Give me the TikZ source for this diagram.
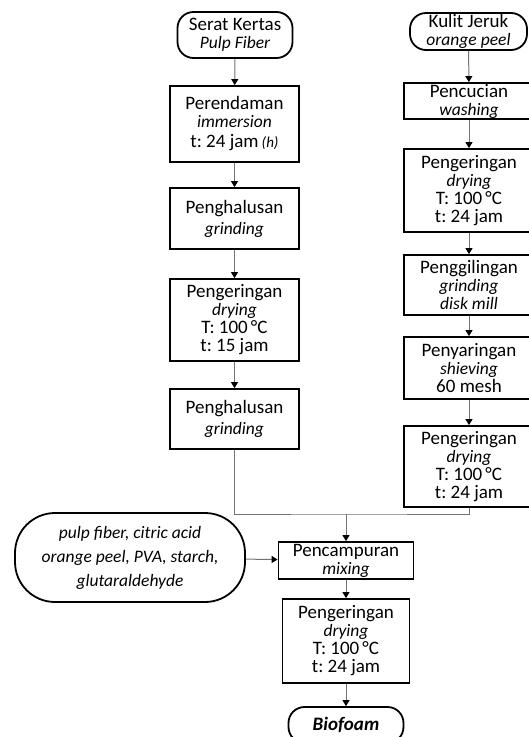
\documentclass[tikz,border=0pt]{standalone}
\usepackage{fontspec}
\setmainfont{Carlito}
\usetikzlibrary{arrows.meta,positioning}

\tikzset{
  proc/.style={draw,line width=1.8pt,align=center,inner sep=1pt,font=\fontsize{19}{18}\selectfont\frenchspacing},
  term/.style={proc,rounded corners=16pt},
  flow/.style={draw=black!55,line width=1pt},
  arr/.style={flow,-{Triangle[width=7pt,length=6pt,color=black]}},
}
\newcommand{\engl}[1]{{\fontsize{17.5}{18}\selectfont\itshape #1}}

\begin{document}
\begin{tikzpicture}[x=1pt,y=-1pt]
\useasboundingbox (0,0) rectangle (529,737);
\clip (0,0) rectangle (529,737);
% pulp fiber column
\node[term,minimum width=115pt,minimum height=46pt] (pulp) at (235,35) {Serat Kertas\\\engl{Pulp Fiber}};
\node[proc,minimum width=129pt,minimum height=76pt] (soak) at (234.5,124) {Perendaman\\\engl{immersion}\\[2pt]t: 24 jam\,{\fontsize{15}{18}\selectfont\itshape(h)}};
\node[proc,minimum width=129pt,minimum height=61pt] (grind1) at (234.5,218.5) {Penghalusan\\[3pt]\engl{grinding}};
\node[proc,minimum width=129pt,minimum height=82pt] (dryA) at (234.5,320) {Pengeringan\\\engl{drying}\\T: 100\,\textdegree C\\t: 15 jam};
\node[proc,minimum width=129pt,minimum height=60pt] (grind2) at (234.5,419) {Penghalusan\\[3pt]\engl{grinding}};
% orange peel column
\node[term,minimum width=117pt,minimum height=37pt] (peel) at (468.5,31.5) {Kulit Jeruk\\\engl{orange peel}};
\node[proc,minimum width=130pt,minimum height=36pt] (wash) at (469,101) {Pencucian\\\engl{washing}};
\node[proc,minimum width=130pt,minimum height=83pt] (dryB) at (469,190.5) {Pengeringan\\\engl{drying}\\T: 100\,\textdegree C\\t: 24 jam};
\node[proc,minimum width=130pt,minimum height=60pt] (mill) at (469,285) {Penggilingan\\\engl{grinding}\\\engl{disk mill}};
\node[proc,minimum width=130pt,minimum height=62pt] (sieve) at (469,368) {Penyaringan\\\engl{shieving}\\60 mesh};
\node[proc,minimum width=130pt,minimum height=81pt] (dryC) at (469,466.5) {Pengeringan\\\engl{drying}\\T: 100\,\textdegree C\\t: 24 jam};
% mixing and product
\node[term,rounded corners=40pt,minimum width=230pt,minimum height=89pt] (input) at (130,557.5) {\engl{pulp fiber, citric acid}\\[6pt]\engl{orange peel, PVA, starch,}\\[6pt]\engl{glutaraldehyde}};
\node[proc,minimum width=135pt,minimum height=37pt] (mix) at (346,560.5) {Pencampuran\\\engl{mixing}};
\node[proc,minimum width=127pt,minimum height=84pt] (dryD) at (346,641) {Pengeringan\\\engl{drying}\\T: 100\,\textdegree C\\t: 24 jam};
\node[term,minimum width=115pt,minimum height=36pt] (foam) at (346,725) {\textbf{\textit{Biofoam}}};
\coordinate (join) at (346,514);
% connectors
\draw[arr] (pulp) -- (soak);
\draw[arr] (soak) -- (grind1);
\draw[arr] (grind1) -- (dryA);
\draw[arr] (dryA) -- (grind2);
\draw[arr] (peel) -- (wash);
\draw[arr] (wash) -- (dryB);
\draw[arr] (dryB) -- (mill);
\draw[arr] (mill) -- (sieve);
\draw[arr] (sieve) -- (dryC);
\draw[flow] (grind2.south) |- (join) -| (dryC.south);
\draw[arr] (join) -- (mix);
\draw[arr] (input) -- (mix);
\draw[arr] (mix) -- (dryD);
\draw[arr] (dryD) -- (foam);
\end{tikzpicture}
\end{document}
